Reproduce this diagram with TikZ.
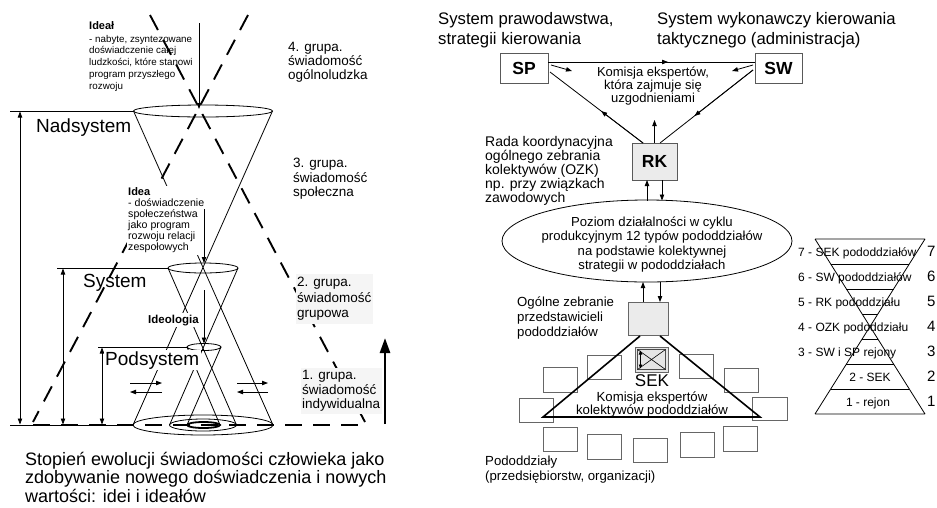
\documentclass[tikz,border=0pt]{standalone}
\usepackage{fontspec}
\setmainfont{Liberation Sans}
\usetikzlibrary{arrows.meta,shapes.geometric,calc}
\newcommand\txtsize[2]{\fontsize{#1}{#2}\selectfont}
\newcommand\leftlines[1]{\begin{tabular}[t]{@{}l@{}}#1\end{tabular}}
\newcommand\midlines[1]{\begin{tabular}[t]{@{}c@{}}#1\end{tabular}}
\begin{document}
\begin{tikzpicture}[x=1pt,y=-1pt,
  thinline/.style={line width=0.8pt},
  widedash/.style={line width=1.9pt,dash pattern=on 17pt off 11pt},
  tip/.style={-{Triangle[length=6pt,width=4.4pt]}},
  twotip/.style={{Triangle[length=6pt,width=4.4pt]}-{Triangle[length=6pt,width=4.4pt]}},
  cone/.style={ellipse,draw,line width=0.8pt,inner sep=0pt,outer sep=0pt},
  txt/.style={inner sep=0pt,anchor=base west},
  ctxt/.style={inner sep=0pt,anchor=base},
  cover/.style={fill=white,inner sep=1.5pt},
  unit/.style={draw=black!60,line width=0.9pt,fill=white,inner sep=0pt,outer sep=0pt,minimum width=34pt,minimum height=24.5pt},
  abbr/.style={draw=black!65,line width=0.9pt,inner sep=0pt,outer sep=0pt,font=\bfseries\txtsize{17.5}{20}},
]
\useasboundingbox (0,0) rectangle (937,507);
\fill[white] (0,0) rectangle (937,507);

% ---------------- left: evolution of consciousness ----------------
% three nested hourglasses
\node[cone,minimum width=139pt,minimum height=12pt] (nadTop) at (203,111) {};
\node[cone,minimum width=140pt,minimum height=20pt] (nadBot) at (203,425) {};
\node[cone,minimum width=70pt,minimum height=10pt] (sysTop) at (203,268) {};
\node[cone,minimum width=67pt,minimum height=12pt] (sysBot) at (203,425) {};
\node[cone,minimum width=34pt,minimum height=7pt] (podTop) at (204,347) {};
\node[cone,line width=1.8pt,minimum width=33pt,minimum height=6pt] (podBot) at (203.5,425) {};
\draw[thinline] (nadTop.west) -- (nadBot.east) (nadTop.east) -- (nadBot.west);
\draw[thinline] (sysTop.west) -- (sysBot.east) (sysTop.east) -- (sysBot.west);
\draw[thinline] (podTop.west) -- (podBot.east) (podTop.east) -- (podBot.west);

% level lines and their spans
\coordinate (nadL) at (10,111);
\coordinate (sysL) at (57,268);
\coordinate (podL) at (98,347);
\coordinate (baseL) at (10,425);
\draw[thinline] (nadL) -- (nadTop.west);
\draw[thinline] (sysL) -- (sysTop.west);
\draw[thinline] (podL) -- (podTop.west);
\draw[thinline] (baseL) -- (nadBot.west);
\coordinate (nadSpanT) at (20,111.5);
\coordinate (nadSpanB) at (20,424.5);
\coordinate (sysSpanT) at (63,268.5);
\coordinate (sysSpanB) at (63,424.5);
\coordinate (podSpanT) at (102,347.5);
\coordinate (podSpanB) at (102,424.5);
\draw[thinline,twotip] (nadSpanT) -- (nadSpanB);
\draw[thinline,twotip] (sysSpanT) -- (sysSpanB);
\draw[thinline,twotip] (podSpanT) -- (podSpanB);

% dashed cross and dashed ground line
\coordinate (crossA1) at (150,15);
\coordinate (crossA2) at (365,422);
\coordinate (crossB1) at (248,15);
\coordinate (crossB2) at (33,422);
\coordinate (groundL) at (33,425);
\coordinate (groundR) at (365,425);
\draw[widedash] (crossA1) -- (crossA2);
\draw[widedash] (crossB1) -- (crossB2);
\draw[widedash] (groundL) -- (groundR);

% labels
\node[txt,font=\txtsize{19}{21}] (nadLabel) at (36,132) {Nadsystem};
\node[txt,font=\txtsize{19}{21}] (sysLabel) at (83,287) {System};
\node[txt,cover,font=\txtsize{19}{21}] (podLabel) at (103.5,365) {Podsystem};
\node[txt,cover,font=\bfseries\txtsize{11.5}{13}] (ideologia) at (146.5,323) {Ideologia};
\node[txt,font=\txtsize{9.8}{11.75}] (ideal) at (89,29.5)
  {\leftlines{\bfseries\txtsize{11}{11}Ideał\\[0.75pt]- nabyte, zsyntezowane\\doświadczenie całej\\ludzkości, które stanowi\\program przyszłego\\rozwoju}};
\node[txt,cover,font=\txtsize{10.6}{11}] (idea) at (126.5,195)
  {\leftlines{\bfseries\txtsize{11}{11}Idea\\- doświadczenie\\społeczeństwa\\jako program\\rozwoju relacji\\zespołowych}};
\node[txt,font=\txtsize{13.5}{14}] (grp4) at (288,51.5) {\leftlines{4. grupa.\\świadomość\\ogólnoludzka}};
\node[txt,font=\txtsize{13.5}{14.5}] (grp3) at (293,167.5) {\leftlines{3. grupa.\\świadomość\\społeczna}};
\node[txt,cover,fill=black!4,font=\txtsize{13.5}{15.5}] (grp2) at (295.5,286.5) {\leftlines{2. grupa.\\świadomość\\grupowa}};
\node[txt,cover,fill=black!4,font=\txtsize{13.5}{14.5}] (grp1) at (300.5,379.5) {\leftlines{1. grupa.\\świadomość\\indywidualna}};
\node[txt,font=\txtsize{18}{18.5}] (caption) at (25,465)
  {\leftlines{Stopień ewolucji świadomości człowieka jako\\zdobywanie nowego doświadczenia i nowych\\wartości: idei i ideałów}};

% experience flowing down into each level
\coordinate (idealFrom) at (199,23);
\coordinate (idealTo) at (199,109);
\coordinate (ideaFrom) at (204,209);
\coordinate (ideologiaFrom) at (204,290);
\draw[thinline,tip] (idealFrom) -- (idealTo);
\draw[thinline,tip] (ideaFrom) -- (sysTop.north -| ideaFrom);
\draw[thinline,tip] (ideologiaFrom) -- (podTop.north);

% exchange arrows at the base
\coordinate (exLa) at (130,383); \coordinate (exLb) at (162,383);
\coordinate (exLc) at (162,392); \coordinate (exLd) at (130,392);
\coordinate (exRa) at (237,383); \coordinate (exRb) at (268,383);
\coordinate (exRc) at (268,392); \coordinate (exRd) at (237,392);
\draw[thinline,tip] (exLa) -- (exLb);
\draw[thinline,tip] (exLc) -- (exLd);
\draw[thinline,tip] (exRa) -- (exRb);
\draw[thinline,tip] (exRc) -- (exRd);

% growth arrow
\coordinate (growFrom) at (385,424);
\coordinate (growTo) at (385,338);
\draw[line width=2.6pt,-{Triangle[length=15pt,width=10pt]}] (growFrom) -- (growTo);

% ---------------- right: management structure ----------------
\node[txt,font=\txtsize{16.7}{20}] (spTitle) at (438,24) {\leftlines{System prawodawstwa,\\strategii kierowania}};
\node[txt,font=\txtsize{16.7}{20}] (swTitle) at (657,24) {\leftlines{System wykonawczy kierowania\\taktycznego (administracja)}};
\node[abbr,fill=white,minimum width=48pt,minimum height=30pt] (SP) at (524,68) {SP};
\node[abbr,fill=white,minimum width=47pt,minimum height=30pt] (SW) at (778.5,68) {SW};
\node[abbr,fill=black!8,minimum width=45pt,minimum height=37pt] (RK) at (654.5,161.5) {RK};

% coordination triangle
\coordinate (spR) at (548,62);
\coordinate (swL) at (755,62);
\coordinate (spLow) at (550,72);
\coordinate (swLow) at (753,70);
\coordinate (rkTL) at (643,143);
\coordinate (rkTR) at (660,143);
\draw[thinline] (spR) -- (swL);
\draw[thinline,tip] (spR) -- ($(spR)!0.58!(swL)$);
\draw[thinline] (spLow) -- (rkTL);
\draw[thinline,tip] (rkTL) -- ($(rkTL)!0.45!(spLow)$);
\draw[thinline] (swLow) -- (rkTR);
\draw[thinline,tip] (swLow) -- ($(swLow)!0.63!(rkTR)$);
\coordinate (spIn) at (551,65); \coordinate (spInTo) at (572,71);
\coordinate (swIn) at (753,65); \coordinate (swInTo) at (732,71);
\draw[thinline,tip] (spIn) -- (spInTo);
\draw[thinline,tip] (swIn) -- (swInTo);
\coordinate (rkUp) at (654.5,120);
\draw[thinline,tip] (RK.north) -- (rkUp);
\node[ctxt,font=\txtsize{13}{12.5}] (commission) at (653,76) {\midlines{Komisja ekspertów,\\która zajmuje się\\uzgodnieniami}};
\node[txt,font=\txtsize{14}{12.2}] (rkText) at (485,146.5)
  {\leftlines{Rada koordynacyjna\\ogólnego zebrania\\kolektywów (OZK)\\np. przy związkach\\zawodowych}};

% activity level
\node[ellipse,draw,thinline,inner sep=0pt,outer sep=0pt,minimum width=290pt,minimum height=82pt] (level) at (647,241) {};
\node[ctxt,font=\txtsize{13.1}{14.4}] (levelText) at (652,226.5)
  {\midlines{Poziom działalności w cyklu\\produkcyjnym 12 typów pododdziałów\\na podstawie kolektywnej\\strategii w pododdziałach}};
\coordinate (rkA) at (647,180); \coordinate (lvA) at (647,200.5);
\coordinate (rkB) at (662,180); \coordinate (lvB) at (662,200.5);
\draw[thinline,tip] (lvA) -- (rkA);
\draw[thinline,tip] (rkB) -- (lvB);

% general assembly of representatives
\node[draw=black!60,line width=0.9pt,fill=black!8,inner sep=0pt,outer sep=0pt,minimum width=40pt,minimum height=33pt] (OZ) at (648,318.5) {};
\coordinate (lvC) at (643,282); \coordinate (ozC) at (643,302);
\coordinate (lvD) at (660,282); \coordinate (ozD) at (660,302);
\draw[thinline,tip] (ozC) -- (lvC);
\draw[thinline,tip] (lvD) -- (ozD);
\node[txt,font=\txtsize{13.2}{15}] (ozText) at (517,306.5) {\leftlines{Ogólne zebranie\\przedstawicieli\\pododdziałów}};

% subdivisions around the expert commission
\node[unit] (u1) at (560,380) {};
\node[unit] (u2) at (604.5,367.5) {};
\node[unit] (u3) at (696,366.5) {};
\node[unit] (u4) at (741.5,380.5) {};
\node[unit] (u5) at (536,410.5) {};
\node[unit,minimum width=35pt,minimum height=23pt] (u6) at (769.5,408.5) {};
\node[unit] (u7) at (560,439.5) {};
\node[unit] (u8) at (604.5,447) {};
\node[unit] (u9) at (650.5,450.5) {};
\node[unit] (u10) at (697,445) {};
\node[unit] (u11) at (740,439) {};

\coordinate (triA) at (640,336);
\coordinate (triB) at (660,336);
\coordinate (triL) at (543,417);
\coordinate (triR) at (760,417);
\draw[line width=1.6pt] (triA) -- (triL) -- (triR) -- (triB);

% SEK symbol
\node[draw=black!60,line width=0.9pt,fill=black!10,inner sep=0pt,outer sep=0pt,minimum width=33pt,minimum height=25pt] (xbox) at (651.5,359.5) {};
\node[draw=black!70,line width=0.6pt,inner sep=0pt,outer sep=0pt,minimum width=28pt,minimum height=20pt] (xboxIn) at (xbox.center) {};
\draw[line width=0.6pt] (xboxIn.north west) -- (xboxIn.south east) (xboxIn.north east) -- (xboxIn.south west);
\coordinate (sekUp) at (640.5,350.5); \coordinate (sekDown) at (640.5,368.5);
\draw[line width=0.6pt,{Triangle[length=4pt,width=3.5pt]}-{Triangle[length=4pt,width=3.5pt]}] (sekUp) -- (sekDown);
\node[ctxt,font=\txtsize{17}{18}] (sek) at (652,386.5) {SEK};
\node[ctxt,font=\txtsize{13.2}{12}] (sekText) at (652,401) {\midlines{Komisja ekspertów\\kolektywów pododdziałów}};
\node[txt,font=\txtsize{13.2}{15}] (unitsText) at (485,465) {\leftlines{Pododdziały\\(przedsiębiorstw, organizacji)}};

% hourglass of levels
\coordinate (hTL) at (815,239);
\coordinate (hTR) at (925,239);
\coordinate (hBL) at (815,414);
\coordinate (hBR) at (925,414);
\draw[thinline] (hTL) -- (hTR) (hBL) -- (hBR) (hTL) -- (hBR) (hTR) -- (hBL);
\foreach \f in {1,...,6}
  \draw[thinline] ($(hTL)!\f/7!(hBR)$) -- ($(hTR)!\f/7!(hBL)$);
\node[txt,font=\txtsize{12}{14}] (lv7) at (798,256) {7 - SEK pododdziałów};
\node[txt,font=\txtsize{12}{14}] (lv6) at (798,281) {6 - SW pododdziałów};
\node[txt,font=\txtsize{12}{14}] (lv5) at (798,306) {5 - RK pododdziału};
\node[txt,font=\txtsize{12}{14}] (lv4) at (798,331) {4 - OZK pododdziału};
\node[txt,font=\txtsize{12}{14}] (lv3) at (798,356) {3 - SW i SP rejony};
\node[ctxt,font=\txtsize{12}{14}] (lv2) at (870,381) {2 - SEK};
\node[ctxt,font=\txtsize{12}{14}] (lv1) at (868,406) {1 - rejon};
\foreach \n/\yy in {7/256,6/281,5/306,4/331,3/356,2/381,1/406}
  \node[txt,font=\txtsize{15}{17}] (num\n) at (927,\yy) {\n};
\end{tikzpicture}
\end{document}
